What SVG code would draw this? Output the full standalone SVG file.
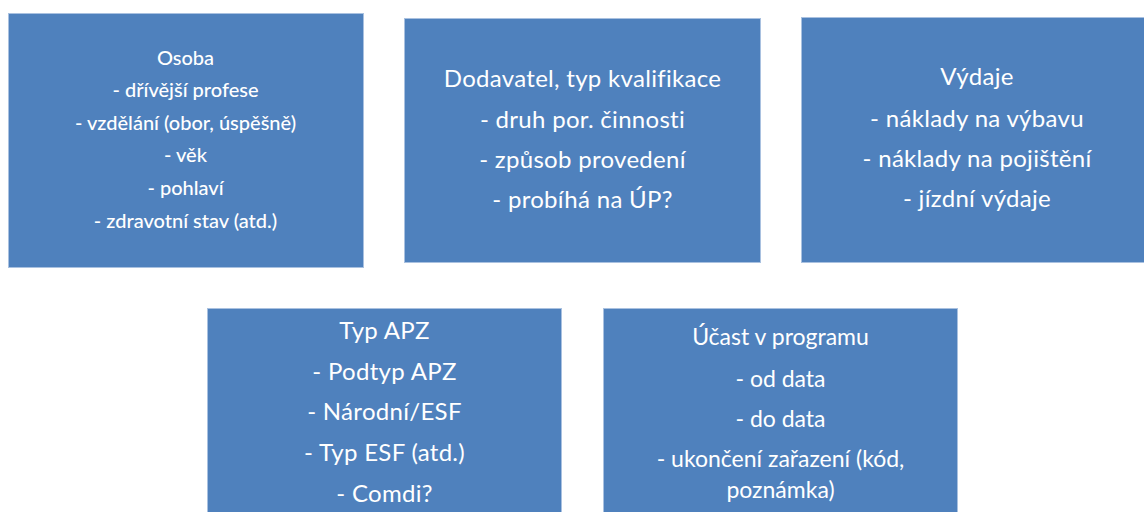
<svg xmlns="http://www.w3.org/2000/svg" width="1144" height="512" viewBox="0 0 1144 512">
<style>
.box{fill:#4F81BD;stroke:#A9C1E0;stroke-width:1}
.t{font-family:Lato,"Liberation Sans",sans-serif;fill:#FFFFFF;text-anchor:middle}
.s{font-size:20px;font-weight:500}
.m{font-size:24px;letter-spacing:0.3px}
.n{font-size:23px}
</style>
<rect width="1144" height="512" fill="#FFFFFF"/>
<g id="connectors"></g>
<g id="osoba">
<rect class="box" x="8.5" y="13.5" width="355" height="254"/>
<text class="t s" x="185.5" y="65">Osoba</text>
<text class="t s" x="185.5" y="97">- dřívější profese</text>
<text class="t s" x="185.5" y="130">- vzdělání (obor, úspěšně)</text>
<text class="t s" x="185.5" y="162">- věk</text>
<text class="t s" x="185.5" y="195">- pohlaví</text>
<text class="t s" x="185.5" y="228">- zdravotní stav (atd.)</text>
</g>
<g id="dodavatel">
<rect class="box" x="404.5" y="18.5" width="356" height="244"/>
<text class="t m" x="582.5" y="87">Dodavatel, typ kvalifikace</text>
<text class="t m" x="582.5" y="127.5">- druh por. činnosti</text>
<text class="t m" x="582.5" y="168">- způsob provedení</text>
<text class="t m" x="582.5" y="208">- probíhá na ÚP?</text>
</g>
<g id="vydaje">
<rect class="box" x="801.5" y="17.5" width="356" height="245"/>
<text class="t m" x="977" y="85">Výdaje</text>
<text class="t m" x="977" y="127">- náklady na výbavu</text>
<text class="t m" x="977" y="167">- náklady na pojištění</text>
<text class="t m" x="977" y="207">- jízdní výdaje</text>
</g>
<g id="typ-apz">
<rect class="box" x="207.5" y="308.5" width="354" height="210"/>
<text class="t m" x="384.5" y="339">Typ APZ</text>
<text class="t m" x="384.5" y="380">- Podtyp APZ</text>
<text class="t m" x="384.5" y="420">- Národní/ESF</text>
<text class="t m" x="384.5" y="461">- Typ ESF (atd.)</text>
<text class="t m" x="384.5" y="502">- Comdi?</text>
</g>
<g id="ucast">
<rect class="box" x="603.5" y="308.5" width="354" height="210"/>
<text class="t n" x="780.5" y="345">Účast v programu</text>
<text class="t n" x="780.5" y="387">- od data</text>
<text class="t n" x="780.5" y="427">- do data</text>
<text class="t n" x="780.5" y="467">- ukončení zařazení (kód,</text>
<text class="t n" x="780.5" y="498">poznámka)</text>
</g>
</svg>
